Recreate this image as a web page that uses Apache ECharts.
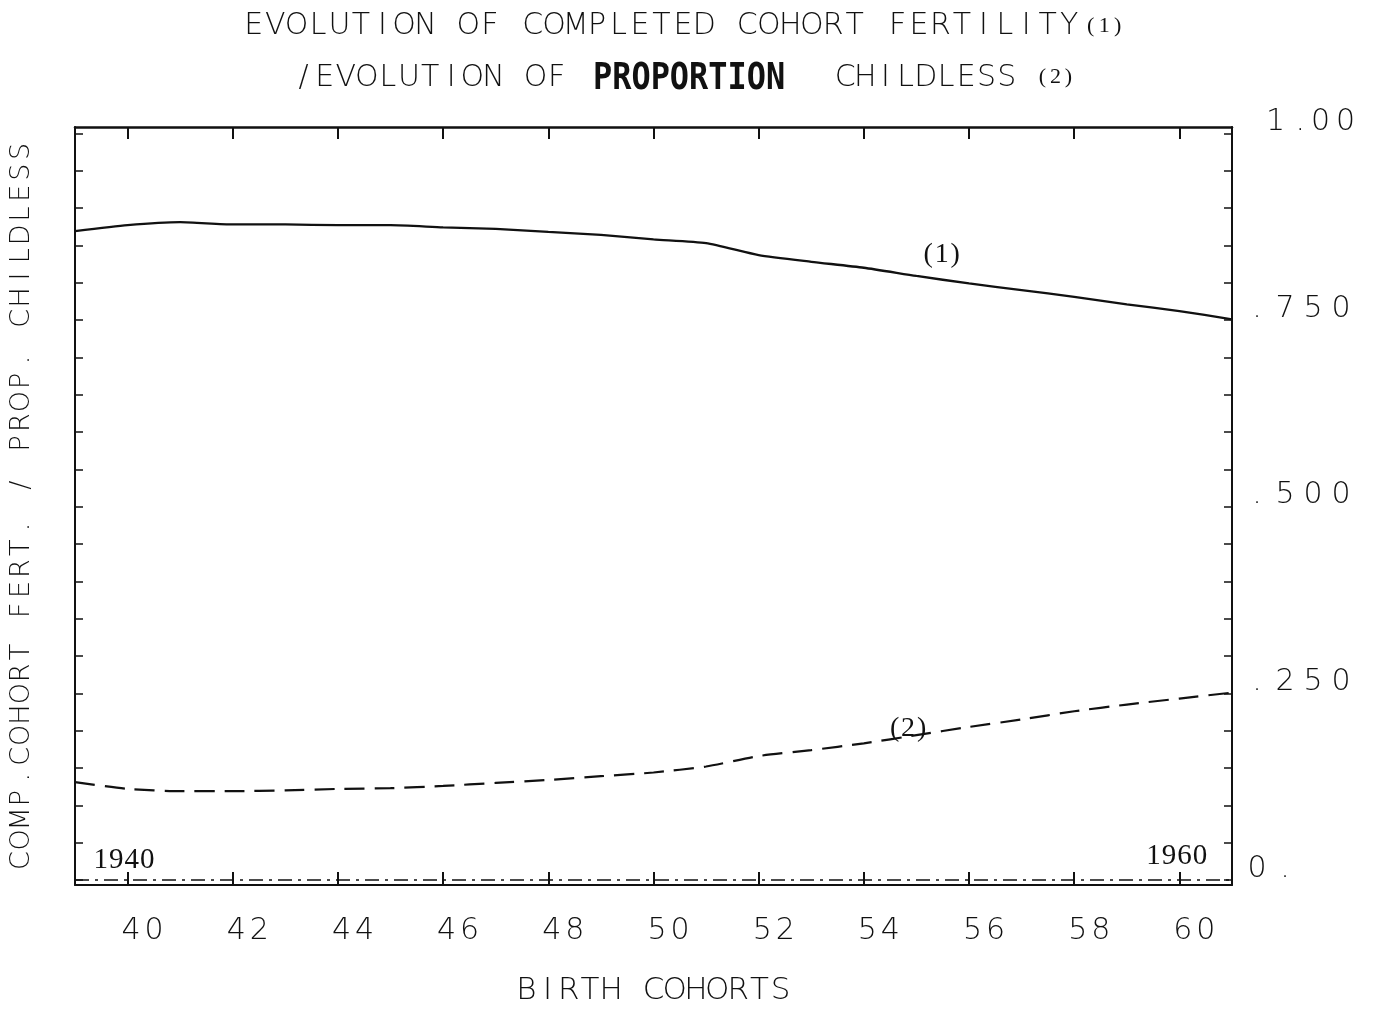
<!DOCTYPE html>
<html><head><meta charset="utf-8">
<script src="https://cdn.jsdelivr.net/npm/echarts@6/dist/echarts.min.js"></script>
<style>html,body{margin:0;padding:0;background:#fff}#c{width:1376px;height:1009px}</style>
</head><body><div id="c"></div>
<script>
const years = [1939,1940,1941,1942,1943,1944,1945,1946,1947,1948,1949,1950,1951,1952,1953,1954,1955,1956,1957,1958,1959,1960,1961];
const fertility = [0.869,0.877,0.881,0.878,0.878,0.877,0.877,0.874,0.872,0.868,0.864,0.858,0.853,0.837,0.828,0.820,0.809,0.799,0.790,0.781,0.771,0.762,0.751];
const childless = [0.131,0.122,0.119,0.119,0.120,0.122,0.123,0.126,0.130,0.134,0.139,0.144,0.152,0.166,0.174,0.183,0.194,0.205,0.215,0.226,0.235,0.243,0.251];
const xTicks = [1940,1942,1944,1946,1948,1950,1952,1954,1956,1958,1960];
const yTicks = [0,0.05,0.1,0.15,0.2,0.25,0.3,0.35,0.4,0.45,0.5,0.55,0.6,0.65,0.7,0.75,0.8,0.85,0.9,0.95,1.0];
const yLabels = [0,0.25,0.5,0.75,1.0];
const yLabelText = {"0":"0.","0.25":".250","0.5":".500","0.75":".750","1":"1.00"};
const baseline = [[1939,0],[1961,0]];

const LIGHT = "200 30px 'DejaVu Sans'";
// plotter-style fixed pitch: each character in its own cell
const mono = (s, k) => s.split('').map(ch => '{' + k + '|' + ch + '}').join('');
const cell = (size, w, align) => ({fontFamily:'DejaVu Sans', fontWeight:200, fontSize:size, color:'#111', width:w, align:align||'center'});
const serifCell = (size, w) => ({fontFamily:'Liberation Serif', fontSize:size, color:'#111', width:w, align:'center'});

const chart = echarts.init(document.getElementById('c'), null, {renderer:'canvas'});
const XMIN = 1939, XMAX = 1961, YMIN = -0.0067, YMAX = 1.0085;

function rightLabel(v){
  const t = yLabelText[String(v)];
  if (t === '1.00') return '{r1|1}{rd|.}{rz|0}{rz|0}';
  return mono(t, 'rc');
}
function textMark(coord, txt, size, w){
  return {coord:coord, label:{show:true, formatter:mono(txt,'m'), rich:{m:serifCell(size, w)}}};
}

chart.setOption({
  backgroundColor:'#fff',
  animation:false,
  grid:{left:75, right:144, top:127, bottom:124, outerBoundsMode:'none', containLabel:false},
  graphic:[
    {type:'text', x:243, y:26, style:{
      text: mono('EVOLUTION OF COMPLETED COHORT FERTILITY','t'), verticalAlign:'middle', align:'left',
      rich:{t:{font:LIGHT, fill:'#111', width:21.46, align:'center'}}}},
    {type:'text', x:1084, y:26, style:{
      text: mono('(1)','s'), verticalAlign:'middle', align:'left',
      rich:{s:{font:"22px 'Liberation Serif'", fill:'#111', width:13.5, align:'center'}}}},
    {type:'text', x:293, y:78, style:{
      text: mono('/EVOLUTION OF','t'), verticalAlign:'middle', align:'left',
      rich:{t:{font:LIGHT, fill:'#111', width:21.1, align:'center'}}}},
    {type:'text', x:593, y:79, scaleX:0.84, style:{
      text: 'PROPORTION', verticalAlign:'middle', align:'left',
      font:"bold 38px 'DejaVu Sans Mono'", fill:'#111'}},
    {type:'text', x:835, y:78, style:{
      text: mono('CHILDLESS','t'), verticalAlign:'middle', align:'left',
      rich:{t:{font:LIGHT, fill:'#111', width:20.2, align:'center'}}}},
    {type:'text', x:1036, y:77, style:{
      text: mono('(2)','s'), verticalAlign:'middle', align:'left',
      rich:{s:{font:"22px 'Liberation Serif'", fill:'#111', width:13, align:'center'}}}}
  ],
  xAxis:[
    {type:'value', min:XMIN, max:XMAX, position:'bottom',
     name: mono('BIRTH COHORTS','n'), nameLocation:'middle', nameGap:90,
     nameTextStyle:{rich:{n:cell(31, 21.2)}},
     axisLine:{show:true, onZero:false, lineStyle:{color:'#111', width:2}},
     axisTick:{show:true, inside:true, length:13, customValues:xTicks, lineStyle:{color:'#111', width:2}},
     axisLabel:{customValues:xTicks, formatter:v=>mono(String(v%100),'x'), margin:31, padding:[0,0,0,30],
       rich:{x:cell(30, 23)}},
     splitLine:{show:false}},
    {type:'value', min:XMIN, max:XMAX, position:'top',
     axisLine:{show:true, onZero:false, lineStyle:{color:'#111', width:2.5}},
     axisTick:{show:true, inside:true, length:12, customValues:xTicks, lineStyle:{color:'#111', width:2}},
     axisLabel:{show:false}, splitLine:{show:false}}
  ],
  yAxis:[
    {type:'value', min:YMIN, max:YMAX, position:'left',
     name: mono('COMP.COHORT FERT. / PROP. CHILDLESS','n'), nameLocation:'middle', nameGap:40, nameRotate:90,
     nameTextStyle:{rich:{n:cell(27, 20.86)}},
     axisLine:{show:true, onZero:false, lineStyle:{color:'#111', width:2}},
     axisTick:{show:true, inside:true, length:8, customValues:yTicks, lineStyle:{color:'#111', width:1.5}},
     axisLabel:{show:false}, splitLine:{show:false}},
    {type:'value', min:YMIN, max:YMAX, position:'right',
     axisLine:{show:true, onZero:false, lineStyle:{color:'#111', width:2}},
     axisTick:{show:true, inside:true, length:8, customValues:yTicks, lineStyle:{color:'#111', width:1.5}},
     axisLabel:{customValues:yLabels, formatter:rightLabel, margin:11, align:'left', verticalAlign:'bottom', lineHeight:22,
       rich:{
         rc:Object.assign(cell(30, 28), {lineHeight:22}),
         r1:Object.assign(cell(30, 42, 'right'), {lineHeight:22}),
         rd:Object.assign(cell(30, 20, 'right'), {lineHeight:22}),
         rz:Object.assign(cell(30, 25, 'right'), {lineHeight:22})}},
     splitLine:{show:false}}
  ],
  series:[
    {type:'line', name:'(1)', data:years.map((y,i)=>[y,fertility[i]]), showSymbol:false, smooth:0.2,
     lineStyle:{color:'#111', width:2.3},
     markPoint:{symbol:'circle', symbolSize:0, silent:true, data:[textMark([1955.48,0.837],'(1)',28,13.5)]}},
    {type:'line', name:'(2)', data:years.map((y,i)=>[y,childless[i]]), showSymbol:false, smooth:0.2,
     lineStyle:{color:'#111', width:2.2, type:[20,10]},
     markPoint:{symbol:'circle', symbolSize:0, silent:true, data:[textMark([1954.84,0.203],'(2)',28,13.5)]}},
    {type:'line', name:'base', data:baseline, showSymbol:false,
     lineStyle:{color:'#111', width:1.5, type:[14,6,3,6]},
     markPoint:{symbol:'circle', symbolSize:0, silent:true, data:[
       textMark([1939.93,0.0267],'1940',29,15.5),
       textMark([1959.95,0.031],'1960',29,15.5)]}}
  ]
});
</script></body></html>
